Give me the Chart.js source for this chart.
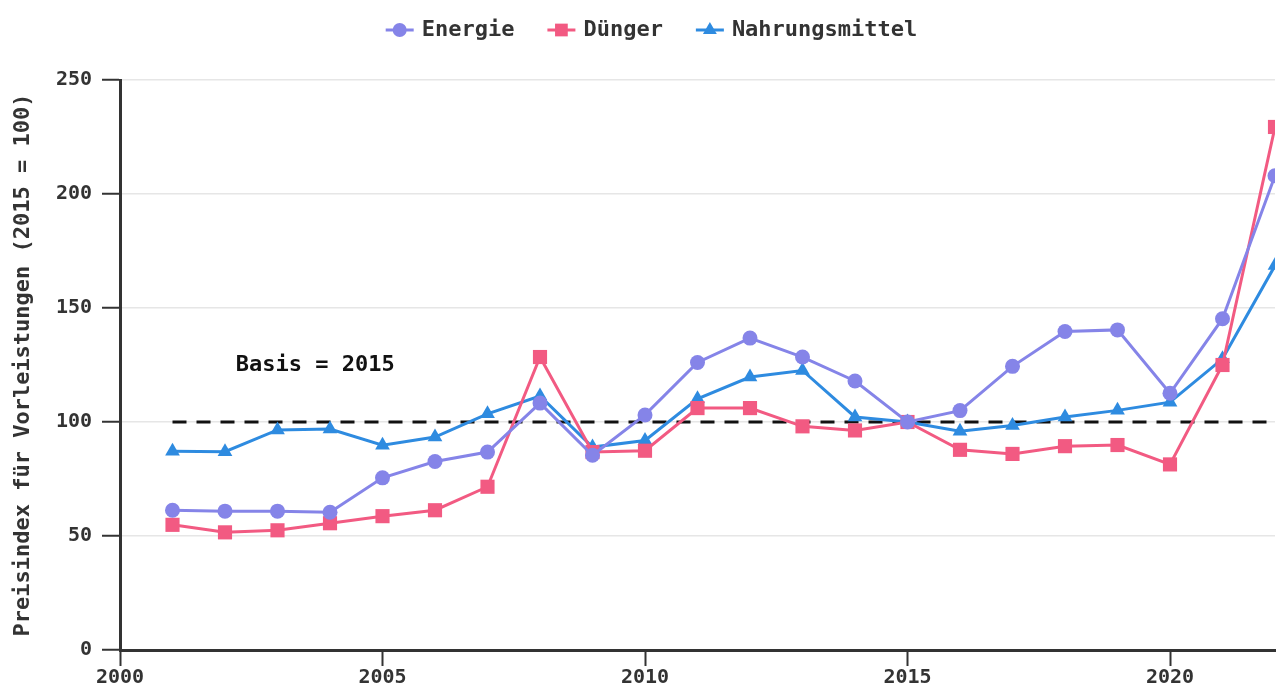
<!DOCTYPE html>
<html>
<head>
<meta charset="utf-8">
<script src="https://cdn.jsdelivr.net/npm/chart.js@4.4.1/dist/chart.umd.min.js"></script>
<style>
  html, body { margin: 0; padding: 0; background: #fff; }
  #wrap { width: 1279px; height: 684px; }
</style>
</head>
<body>
<div id="wrap"><canvas id="chart"></canvas></div>
<script>
const years = [2001, 2002, 2003, 2004, 2005, 2006, 2007, 2008, 2009, 2010, 2011,
  2012, 2013, 2014, 2015, 2016, 2017, 2018, 2019, 2020, 2021, 2022];
const energie = [61.3, 60.9, 60.9, 60.4, 75.5, 82.7, 86.8, 108.3, 85.4, 103.1, 126.1,
  136.8, 128.5, 118, 100, 105, 124.4, 139.7, 140.4, 112.6, 145.3, 208];
const duenger = [54.9, 51.6, 52.5, 55.6, 58.7, 61.3, 71.6, 128.5, 86.8, 87.4, 106.1,
  106.1, 98.1, 96.3, 100, 87.8, 86, 89.4, 89.9, 81.4, 125, 229.4];
const nahrung = [87.2, 87, 96.5, 96.9, 89.8, 93.4, 103.6, 111.4, 89, 91.9, 110.2,
  119.7, 122.6, 102.2, 100, 95.9, 98.5, 102.2, 105.1, 108.7, 127.7, 168.6];
const seriesNames = ["Energie", "Dünger", "Nahrungsmittel"];
const baseLine = years.map(() => 100);
const xTicks = [2000, 2005, 2010, 2015, 2020];
const yTicks = [0, 50, 100, 150, 200, 250];
const basisLabel = "Basis = 2015";
const basisPos = [2003.72, 125];

const FONT = "'DejaVu Sans Mono', monospace";
const colors = ["#8584e8", "#f25a82", "#2e8be0"];
const pointStyles = ["circle", "rect", "triangle"];
const legendRadius = [7, 9, 8];

function pts(arr) {
  return years.map((x, i) => ({ x: x, y: arr[i] }));
}

// legend drawn by hand: line with marker, then the label
const legendPlugin = {
  id: "lineLegend",
  afterDraw(chart) {
    const ctx = chart.ctx;
    ctx.save();
    ctx.font = "bold 22px " + FONT;
    const lineW = 28, gap = 8, itemGap = 33;
    const widths = seriesNames.map(n => lineW + gap + ctx.measureText(n).width);
    const total = widths.reduce((a, b) => a + b, 0) + itemGap * (widths.length - 1);
    let x = (chart.width - total) / 2 + 12;
    const y = 30;
    seriesNames.forEach((name, i) => {
      ctx.strokeStyle = colors[i];
      ctx.lineWidth = 3;
      ctx.beginPath();
      ctx.moveTo(x, y);
      ctx.lineTo(x + lineW, y);
      ctx.stroke();
      ctx.fillStyle = colors[i];
      Chart.helpers.drawPoint(ctx, { pointStyle: pointStyles[i], radius: legendRadius[i], rotation: 0, borderWidth: 0 }, x + lineW / 2, y);
      ctx.fillStyle = "#333";
      ctx.textBaseline = "middle";
      ctx.textAlign = "left";
      ctx.fillText(name, x + lineW + gap, y);
      x += widths[i] + itemGap;
    });
    ctx.restore();
  }
};

const basisPlugin = {
  id: "basisText",
  afterDatasetsDraw(chart) {
    const ctx = chart.ctx;
    const xs = chart.scales.x, ys = chart.scales.y;
    ctx.save();
    ctx.font = "bold 22px " + FONT;
    ctx.fillStyle = "#111";
    ctx.textAlign = "center";
    ctx.textBaseline = "middle";
    ctx.fillText(basisLabel, xs.getPixelForValue(basisPos[0]), ys.getPixelForValue(basisPos[1]));
    ctx.restore();
  }
};

new Chart(document.getElementById("chart"), {
  type: "line",
  data: {
    datasets: [
      {
        label: seriesNames[0], data: pts(energie), borderColor: colors[0], backgroundColor: colors[0],
        pointStyle: "circle", pointRadius: 7.5, borderWidth: 3, pointBorderWidth: 0
      },
      {
        label: seriesNames[1], data: pts(duenger), borderColor: colors[1], backgroundColor: colors[1],
        pointStyle: "rect", pointRadius: 10, borderWidth: 3, pointBorderWidth: 0
      },
      {
        label: seriesNames[2], data: pts(nahrung), borderColor: colors[2], backgroundColor: colors[2],
        pointStyle: "triangle", pointRadius: 8.5, borderWidth: 3, pointBorderWidth: 0
      },
      {
        label: "Basis", data: pts(baseLine), borderColor: "#111", borderWidth: 3,
        borderDash: [14, 10], pointRadius: 0, order: 5
      }
    ]
  },
  options: {
    responsive: true,
    maintainAspectRatio: false,
    animation: false,
    layout: { autoPadding: false, padding: { top: 80, right: 4, left: 0, bottom: 0 } },
    plugins: {
      legend: { display: false },
      tooltip: { enabled: false }
    },
    scales: {
      x: {
        type: "linear",
        min: 2000,
        max: 2022,
        border: { color: "#333", width: 3 },
        grid: { drawOnChartArea: false, drawTicks: true, tickLength: 16, tickColor: "#333", tickWidth: 2 },
        afterBuildTicks: s => { s.ticks = xTicks.map(v => ({ value: v })); },
        afterFit: s => { s.height = 34; },
        ticks: {
          padding: 0,
          color: "#333",
          maxRotation: 0,
          font: { family: FONT, size: 20, weight: "bold" },
          callback: v => String(v)
        }
      },
      y: {
        min: 0,
        max: 250,
        border: { color: "#333", width: 3 },
        grid: { color: "#e6e6e6", lineWidth: 1.5, tickLength: 18, tickColor: "#333", tickWidth: 2 },
        afterBuildTicks: s => { s.ticks = yTicks.map(v => ({ value: v })); },
        afterFit: s => { s.width = 120; },
        ticks: {
          padding: 10,
          color: "#333",
          font: { family: FONT, size: 20, weight: "bold" }
        },
        title: {
          display: true,
          text: "Preisindex für Vorleistungen (2015 = 100)",
          color: "#333",
          padding: { top: 10, bottom: 0 },
          font: { family: FONT, size: 22, weight: "bold" }
        }
      }
    }
  },
  plugins: [legendPlugin, basisPlugin]
});
</script>
</body>
</html>
